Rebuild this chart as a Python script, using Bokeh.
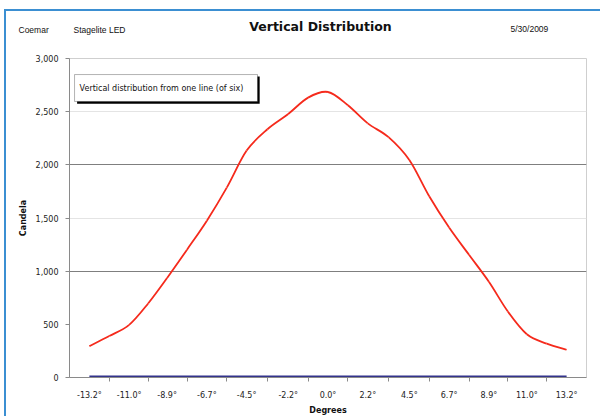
from bokeh.plotting import figure
from bokeh.layouts import column
from bokeh.models import (FixedTicker, NumeralTickFormatter, PrintfTickFormatter, Range1d,
                          Grid, Label, BoxAnnotation)
from bokeh.core.properties import value
from bokeh.embed import file_html
from bokeh.resources import INLINE

# ---- data ----
angles = [-13.2, -12.1, -11.0, -9.95, -8.9, -7.8, -6.7, -5.6, -4.5, -3.35, -2.2, -1.1, 0.0,
          1.1, 2.2, 3.35, 4.5, 5.6, 6.7, 7.8, 8.9, 9.95, 11.0, 12.1, 13.2]
candela = [295, 390, 495, 696, 936, 1202, 1475, 1786, 2134, 2335, 2478, 2632, 2685,
           2560, 2390, 2260, 2045, 1704, 1410, 1154, 900, 620, 407, 318, 261]
label_angles = [-13.2, -11.0, -8.9, -6.7, -4.5, -2.2, 0.0, 2.2, 4.5, 6.7, 8.9, 11.0, 13.2]
second_line = [0, 0, 0, 0, 0, 0, 0, 0, 0, 0, 0, 0, 0]
y_ticks = [0, 500, 1000, 1500, 2000, 2500, 3000]
dark_grid = [1000, 2000]
light_grid = [1500, 2500]

SANS = "DejaVu Sans"
NARROW = "Liberation Sans"
W = 594

# ---- header strip ----
h = figure(frame_width=W, frame_height=36, output_backend="svg", toolbar_location=None,
           x_axis_type=None, y_axis_type=None, min_border=0,
           min_border_left=0, min_border_right=0, min_border_top=0, min_border_bottom=0,
           x_range=Range1d(0, W), y_range=Range1d(36, 0),
           background_fill_color="white", border_fill_color="white")
h.outline_line_color = None
h.text(x=[12, 67, 504], y=[18, 18, 17], text=["Coemar", "Stagelite LED", "5/30/2009"],
       text_font=value(NARROW), text_font_size="8.5px", text_color="#111111",
       text_baseline="middle", text_align="left")
h.text(x=[314], y=[15], text=["Vertical Distribution"], text_font=value(SANS),
       text_font_size="12.5px", text_font_style="bold", text_color="#111111",
       text_baseline="middle", text_align="center")

# ---- main chart ----
p = figure(frame_width=517, frame_height=319, output_backend="svg", toolbar_location=None,
           min_border_left=63, min_border_right=14, min_border_top=11, min_border_bottom=45,
           x_range=Range1d(-14.3, 14.3), y_range=Range1d(0, 3000),
           background_fill_color="white", border_fill_color="white")
p.outline_line_color = "#cfcfcf"

# grids
p.xgrid.visible = False
p.ygrid.ticker = FixedTicker(ticks=dark_grid)
p.ygrid.grid_line_color = "#7f7f7f"
lg = Grid(dimension=1, ticker=FixedTicker(ticks=light_grid), grid_line_color="#e4e4e4")
p.add_layout(lg, "center")

# y axis
ya = p.yaxis[0]
ya.ticker = FixedTicker(ticks=y_ticks)
ya.formatter = NumeralTickFormatter(format="0,0")
ya.axis_line_color = "#8a8a8a"
ya.major_tick_line_color = "#8a8a8a"
ya.major_tick_out = 4
ya.major_tick_in = 0
ya.minor_tick_line_color = None
ya.major_label_standoff = 7
ya.major_label_text_font = SANS
ya.major_label_text_font_size = "8px"
ya.major_label_text_color = "#222222"
ya.axis_label = "Candela"
ya.axis_label_text_font = SANS
ya.axis_label_text_font_style = "bold"
ya.axis_label_text_font_size = "8px"
ya.axis_label_text_color = "#111111"
ya.axis_label_standoff = 5

# x axis
mids = [(a + b) / 2 for a, b in zip(label_angles[:-1], label_angles[1:])]
xa = p.xaxis[0]
xa.ticker = FixedTicker(ticks=label_angles, minor_ticks=mids)
xa.formatter = PrintfTickFormatter(format="%.1f°")
xa.axis_line_color = "#8a8a8a"
xa.major_tick_line_color = None
xa.major_tick_out = 0
xa.major_tick_in = 0
xa.minor_tick_line_color = "#8a8a8a"
xa.minor_tick_out = 4
xa.minor_tick_in = 0
xa.major_label_standoff = 9
xa.major_label_text_font = SANS
xa.major_label_text_font_size = "8px"
xa.major_label_text_color = "#222222"
xa.axis_label = "Degrees"
xa.axis_label_text_font = SANS
xa.axis_label_text_font_style = "bold"
xa.axis_label_text_font_size = "8px"
xa.axis_label_text_color = "#111111"
xa.axis_label_standoff = 3

# series
p.line(label_angles, second_line, line_color="#33338c", line_width=4)

# smoothed rendering of the candela series (Catmull-Rom style Bezier through the data points)
n = len(angles)
x0s, y0s, x1s, y1s, cx0, cy0, cx1, cy1 = [], [], [], [], [], [], [], []
for i in range(n - 1):
    xp, yp = (angles[i - 1], candela[i - 1]) if i > 0 else (angles[i], candela[i])
    xa_, ya_ = angles[i], candela[i]
    xb_, yb_ = angles[i + 1], candela[i + 1]
    xn, yn = (angles[i + 2], candela[i + 2]) if i + 2 < n else (xb_, yb_)
    x0s.append(xa_); y0s.append(ya_); x1s.append(xb_); y1s.append(yb_)
    cx0.append(xa_ + (xb_ - xp) / 6.0); cy0.append(ya_ + (yb_ - yp) / 6.0)
    cx1.append(xb_ - (xn - xa_) / 6.0); cy1.append(yb_ - (yn - ya_) / 6.0)
p.bezier(x0=x0s, y0=y0s, x1=x1s, y1=y1s, cx0=cx0, cy0=cy0, cx1=cx1, cy1=cy1,
         line_color="#f52a1c", line_width=1.8)

# annotation box with shadow
p.add_layout(BoxAnnotation(left=-13.88, right=-3.78, top=2830, bottom=2575,
                           fill_color="black", fill_alpha=1, line_color=None))
p.add_layout(BoxAnnotation(left=-14.02, right=-3.90, top=2849, bottom=2596,
                           fill_color="white", fill_alpha=1, line_color="black", line_width=1))
p.add_layout(Label(x=-13.74, y=2722, text="Vertical distribution from one line (of six)",
                   text_font=SANS, text_font_size="8px", text_color="#111111",
                   text_baseline="middle", text_align="left"))

layout = column(column(h), p, spacing=0,
                styles={"border-top": "2px solid #3b8fd2", "border-left": "2px solid #3b8fd2",
                        "margin-left": "4px", "margin-top": "9px"})

open("out.html", "w").write(file_html(layout, INLINE))
